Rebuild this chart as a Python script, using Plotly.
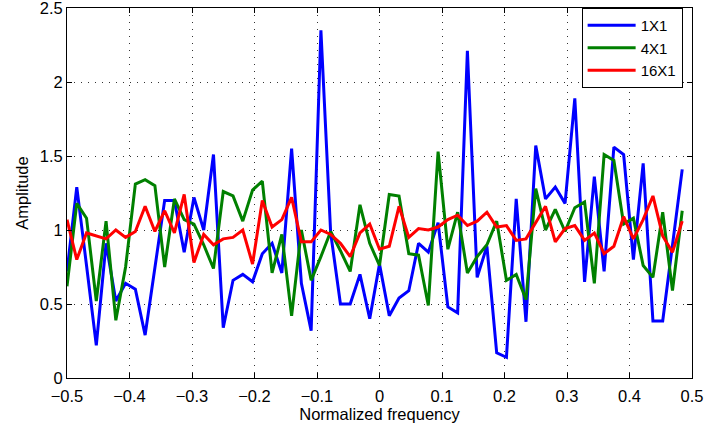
import numpy as np
import plotly.graph_objects as go

n_points = 64
freq = [-0.5 + k / n_points for k in range(n_points)]

amp_1x1 = [0.72, 1.29, 0.76, 0.22, 0.91, 0.52, 0.64, 0.60, 0.29, 0.75,
           1.20, 1.20, 0.85, 1.22, 1.00, 1.51, 0.34, 0.66, 0.70, 0.65,
           0.84, 0.91, 0.71, 1.55, 0.64, 0.32, 2.35, 0.98, 0.50, 0.50,
           0.70, 0.40, 0.77, 0.42, 0.54, 0.59, 0.91, 0.85, 1.05, 0.48,
           0.44, 2.21, 0.68, 0.89, 0.17, 0.14, 1.21, 0.38, 1.57, 1.21,
           1.29, 1.18, 1.89, 0.65, 1.36, 0.72, 1.56, 1.51, 0.80, 1.45,
           0.385, 0.385, 0.90, 1.41]

amp_4x1 = [0.62, 1.18, 1.08, 0.52, 1.06, 0.39, 0.75, 1.31, 1.34, 1.30,
           0.75, 1.21, 1.07, 1.04, 0.90, 0.74, 1.26, 1.23, 1.06, 1.27,
           1.33, 0.71, 0.97, 0.42, 1.00, 0.66, 0.82, 0.99, 0.86, 0.72,
           1.17, 0.91, 0.76, 1.24, 1.23, 0.84, 0.83, 0.49, 1.53, 0.87,
           1.12, 0.71, 0.82, 0.90, 1.06, 0.66, 0.70, 0.53, 1.28, 1.00,
           1.14, 0.99, 1.15, 1.19, 0.64, 1.51, 1.47, 1.04, 1.08, 0.76,
           0.68, 1.12, 0.59, 1.13]

amp_16x1 = [1.07, 0.80, 0.98, 0.96, 0.94, 1.00, 0.95, 0.99, 1.16, 0.99,
            1.13, 0.98, 1.24, 0.78, 0.97, 0.90, 0.94, 0.95, 1.00, 0.77,
            1.20, 1.02, 1.07, 1.22, 0.92, 0.92, 1.00, 0.97, 0.91, 0.82,
            0.98, 1.04, 0.87, 0.89, 1.16, 0.95, 1.01, 1.00, 1.02, 1.07,
            1.10, 1.03, 1.06, 1.12, 1.02, 1.03, 0.93, 0.94, 1.05, 1.16,
            0.92, 1.01, 1.03, 0.93, 0.98, 0.84, 0.89, 1.09, 0.94, 1.07,
            1.23, 0.96, 0.85, 1.06]

series_names = ["1X1", "4X1", "16X1"]
series_colors = ["#0000FF", "#008000", "#FF0000"]
x_ticks = [-0.5, -0.4, -0.3, -0.2, -0.1, 0, 0.1, 0.2, 0.3, 0.4, 0.5]
y_ticks = [0, 0.5, 1, 1.5, 2, 2.5]

FONT = "Liberation Sans, Arial, Helvetica, sans-serif"
FS = 16.5

fig = go.Figure()
for name, vals, col in zip(series_names, [amp_1x1, amp_4x1, amp_16x1], series_colors):
    fig.add_trace(go.Scatter(x=freq, y=vals, mode="lines", name=name,
                             line=dict(color=col, width=3)))

axis_common = dict(
    showline=True, linecolor="black", linewidth=1, mirror="ticks",
    ticks="inside", ticklen=5, tickcolor="black", tickwidth=1,
    showgrid=True, gridcolor="#333333", gridwidth=1, griddash="1px,6px",
    zeroline=False, automargin=False, ticklabeloverflow="allow",
    tickfont=dict(family=FONT, size=FS, color="black"),
)

fig.update_xaxes(range=[-0.5, 0.5], tickvals=x_ticks,
                 ticktext=[("\u2212" if v < 0 else "") + (f"{abs(v):.1f}" if v != 0 else "0") for v in x_ticks],
                 ticklabelstandoff=3,
                 title=dict(text="Normalized frequency", font=dict(family=FONT, size=FS, color="black"), standoff=0),
                 **axis_common)
fig.update_yaxes(range=[0, 2.5], tickvals=y_ticks,
                 ticktext=[f"{v:g}" for v in y_ticks],
                 title=dict(text="Amplitude", font=dict(family=FONT, size=FS, color="black"), standoff=6),
                 **axis_common)

fig.update_layout(
    width=705, height=429,
    margin=dict(l=67, r=13, t=8, b=51),
    paper_bgcolor="white", plot_bgcolor="white",
    font=dict(family=FONT, size=FS, color="black"),
    legend=dict(x=0.985, y=1.0, xanchor="right", yanchor="top",
                bordercolor="black", borderwidth=1, bgcolor="white",
                font=dict(family=FONT, size=15, color="black"),
                itemwidth=48, tracegroupgap=0),
    showlegend=True,
)

fig.write_html("out.html", config={"displayModeBar": False},
               post_script="document.body.style.margin='0';")
